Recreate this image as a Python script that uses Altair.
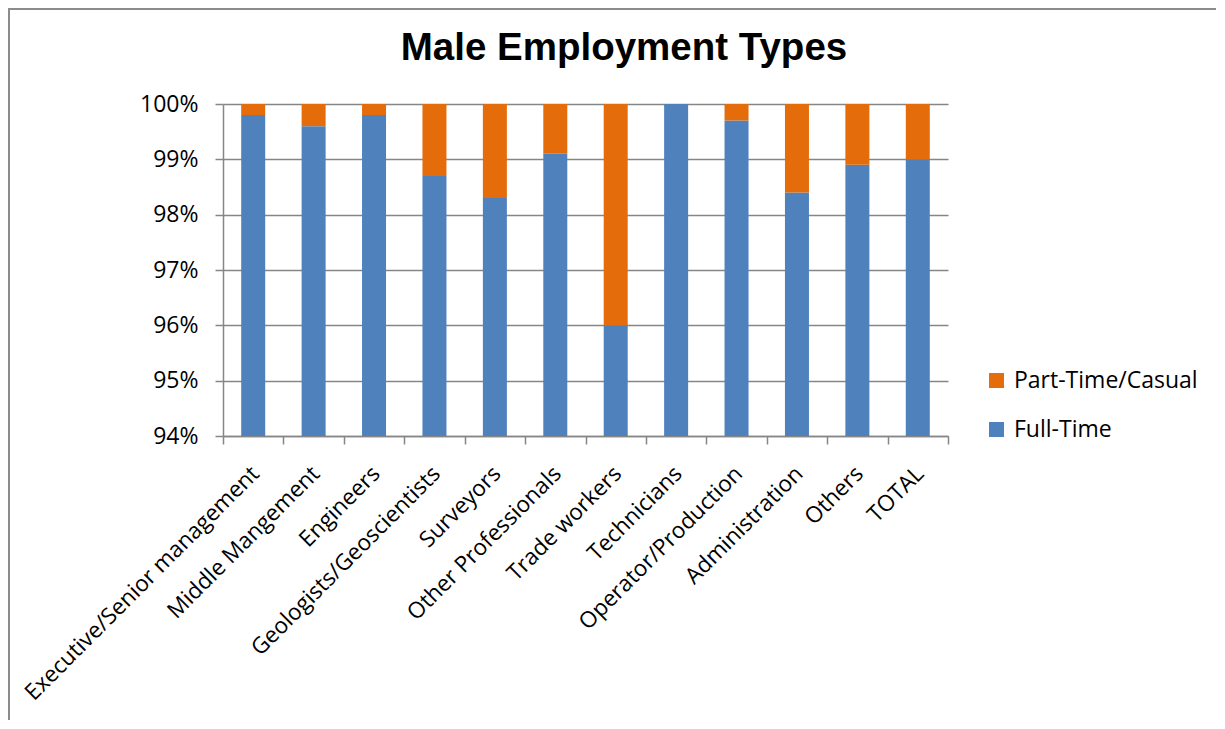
import altair as alt
import pandas as pd

categories = ["Executive/Senior management", "Middle Mangement", "Engineers",
              "Geologists/Geoscientists", "Surveyors", "Other Professionals",
              "Trade workers", "Technicians", "Operator/Production",
              "Administration", "Others", "TOTAL"]
full_time = [99.8, 99.6, 99.8, 98.7, 98.3, 99.1, 96.0, 100.0, 99.7, 98.4, 98.9, 99.0]
part_time = [0.2, 0.4, 0.2, 1.3, 1.7, 0.9, 4.0, 0.0, 0.3, 1.6, 1.1, 1.0]
series = ["Part-Time/Casual", "Full-Time"]
colors = ["#E46C0A", "#4F81BD"]
y_ticks = [0.94, 0.95, 0.96, 0.97, 0.98, 0.99, 1.00]
title_text = ["Male Employment Types"]

rows = []
for c, f, p in zip(categories, full_time, part_time):
    rows.append({"category": c, "type": "Full-Time", "value": f / 100, "ord": 0})
    rows.append({"category": c, "type": "Part-Time/Casual", "value": p / 100, "ord": 1})
df = pd.DataFrame(rows)

FONT = "Open Sans"
GRID = "#868686"

bars = alt.Chart(df).mark_bar(clip=True, width=24).encode(
    x=alt.X("category:N", sort=categories, title=None,
            scale=alt.Scale(paddingInner=0, paddingOuter=0),
            axis=alt.Axis(labelAngle=315, labelAlign="right", labelBaseline="top",
                          labelFontSize=22.5, labelFont=FONT, labelColor="#000000",
                          labelPadding=18, labelOffset=-6, tickBand="extent",
                          tickSize=8, tickColor=GRID, domainColor=GRID,
                          tickWidth=1.5, domainWidth=1.5, grid=False,
                          labelOverlap=False, labelLimit=500)),
    y=alt.Y("value:Q", stack="zero", title=None,
            scale=alt.Scale(domain=[0.94, 1.0], nice=False, zero=False),
            axis=alt.Axis(values=y_ticks, format=".0%", labelFontSize=23,
                          labelFont=FONT, labelColor="#000000", labelPadding=17,
                          tickSize=8, tickColor=GRID, domainColor=GRID,
                          gridColor=GRID, gridWidth=1.5, tickWidth=1.5,
                          domainWidth=1.5)),
    color=alt.Color("type:N", scale=alt.Scale(domain=series, range=colors),
                    legend=alt.Legend(title=None, orient="none", legendX=762,
                                      legendY=265, padding=0, symbolType="square",
                                      symbolSize=225, symbolStrokeWidth=0,
                                      labelFontSize=23, labelFont=FONT,
                                      labelColor="#000000", rowPadding=25,
                                      labelOffset=6, labelLimit=400)),
    order=alt.Order("ord:Q"),
)

title = alt.Chart(alt.Data(values=[{"t": t} for t in title_text])).mark_text(
    font="Liberation Sans", fontSize=38.5, fontWeight="bold", color="#000000",
    align="center", baseline="alphabetic"
).encode(text="t:N", x=alt.value(401), y=alt.value(-44.5))

border = alt.Chart(alt.Data(values=[{"a": 1}])).mark_rect(
    filled=False, stroke="#8C8C8C", strokeWidth=2, clip=False
).encode(x=alt.value(-214), x2=alt.value(1010), y=alt.value(-95), y2=alt.value(700))

chart = alt.layer(bars, title, border).properties(
    width=725, height=332,
    autosize=alt.AutoSizeParams(type="none"),
    padding={"left": 215, "top": 96, "right": 268, "bottom": 284},
).configure_view(stroke=None)

chart.save("out.html", embed_options={"renderer": "svg", "actions": False})
